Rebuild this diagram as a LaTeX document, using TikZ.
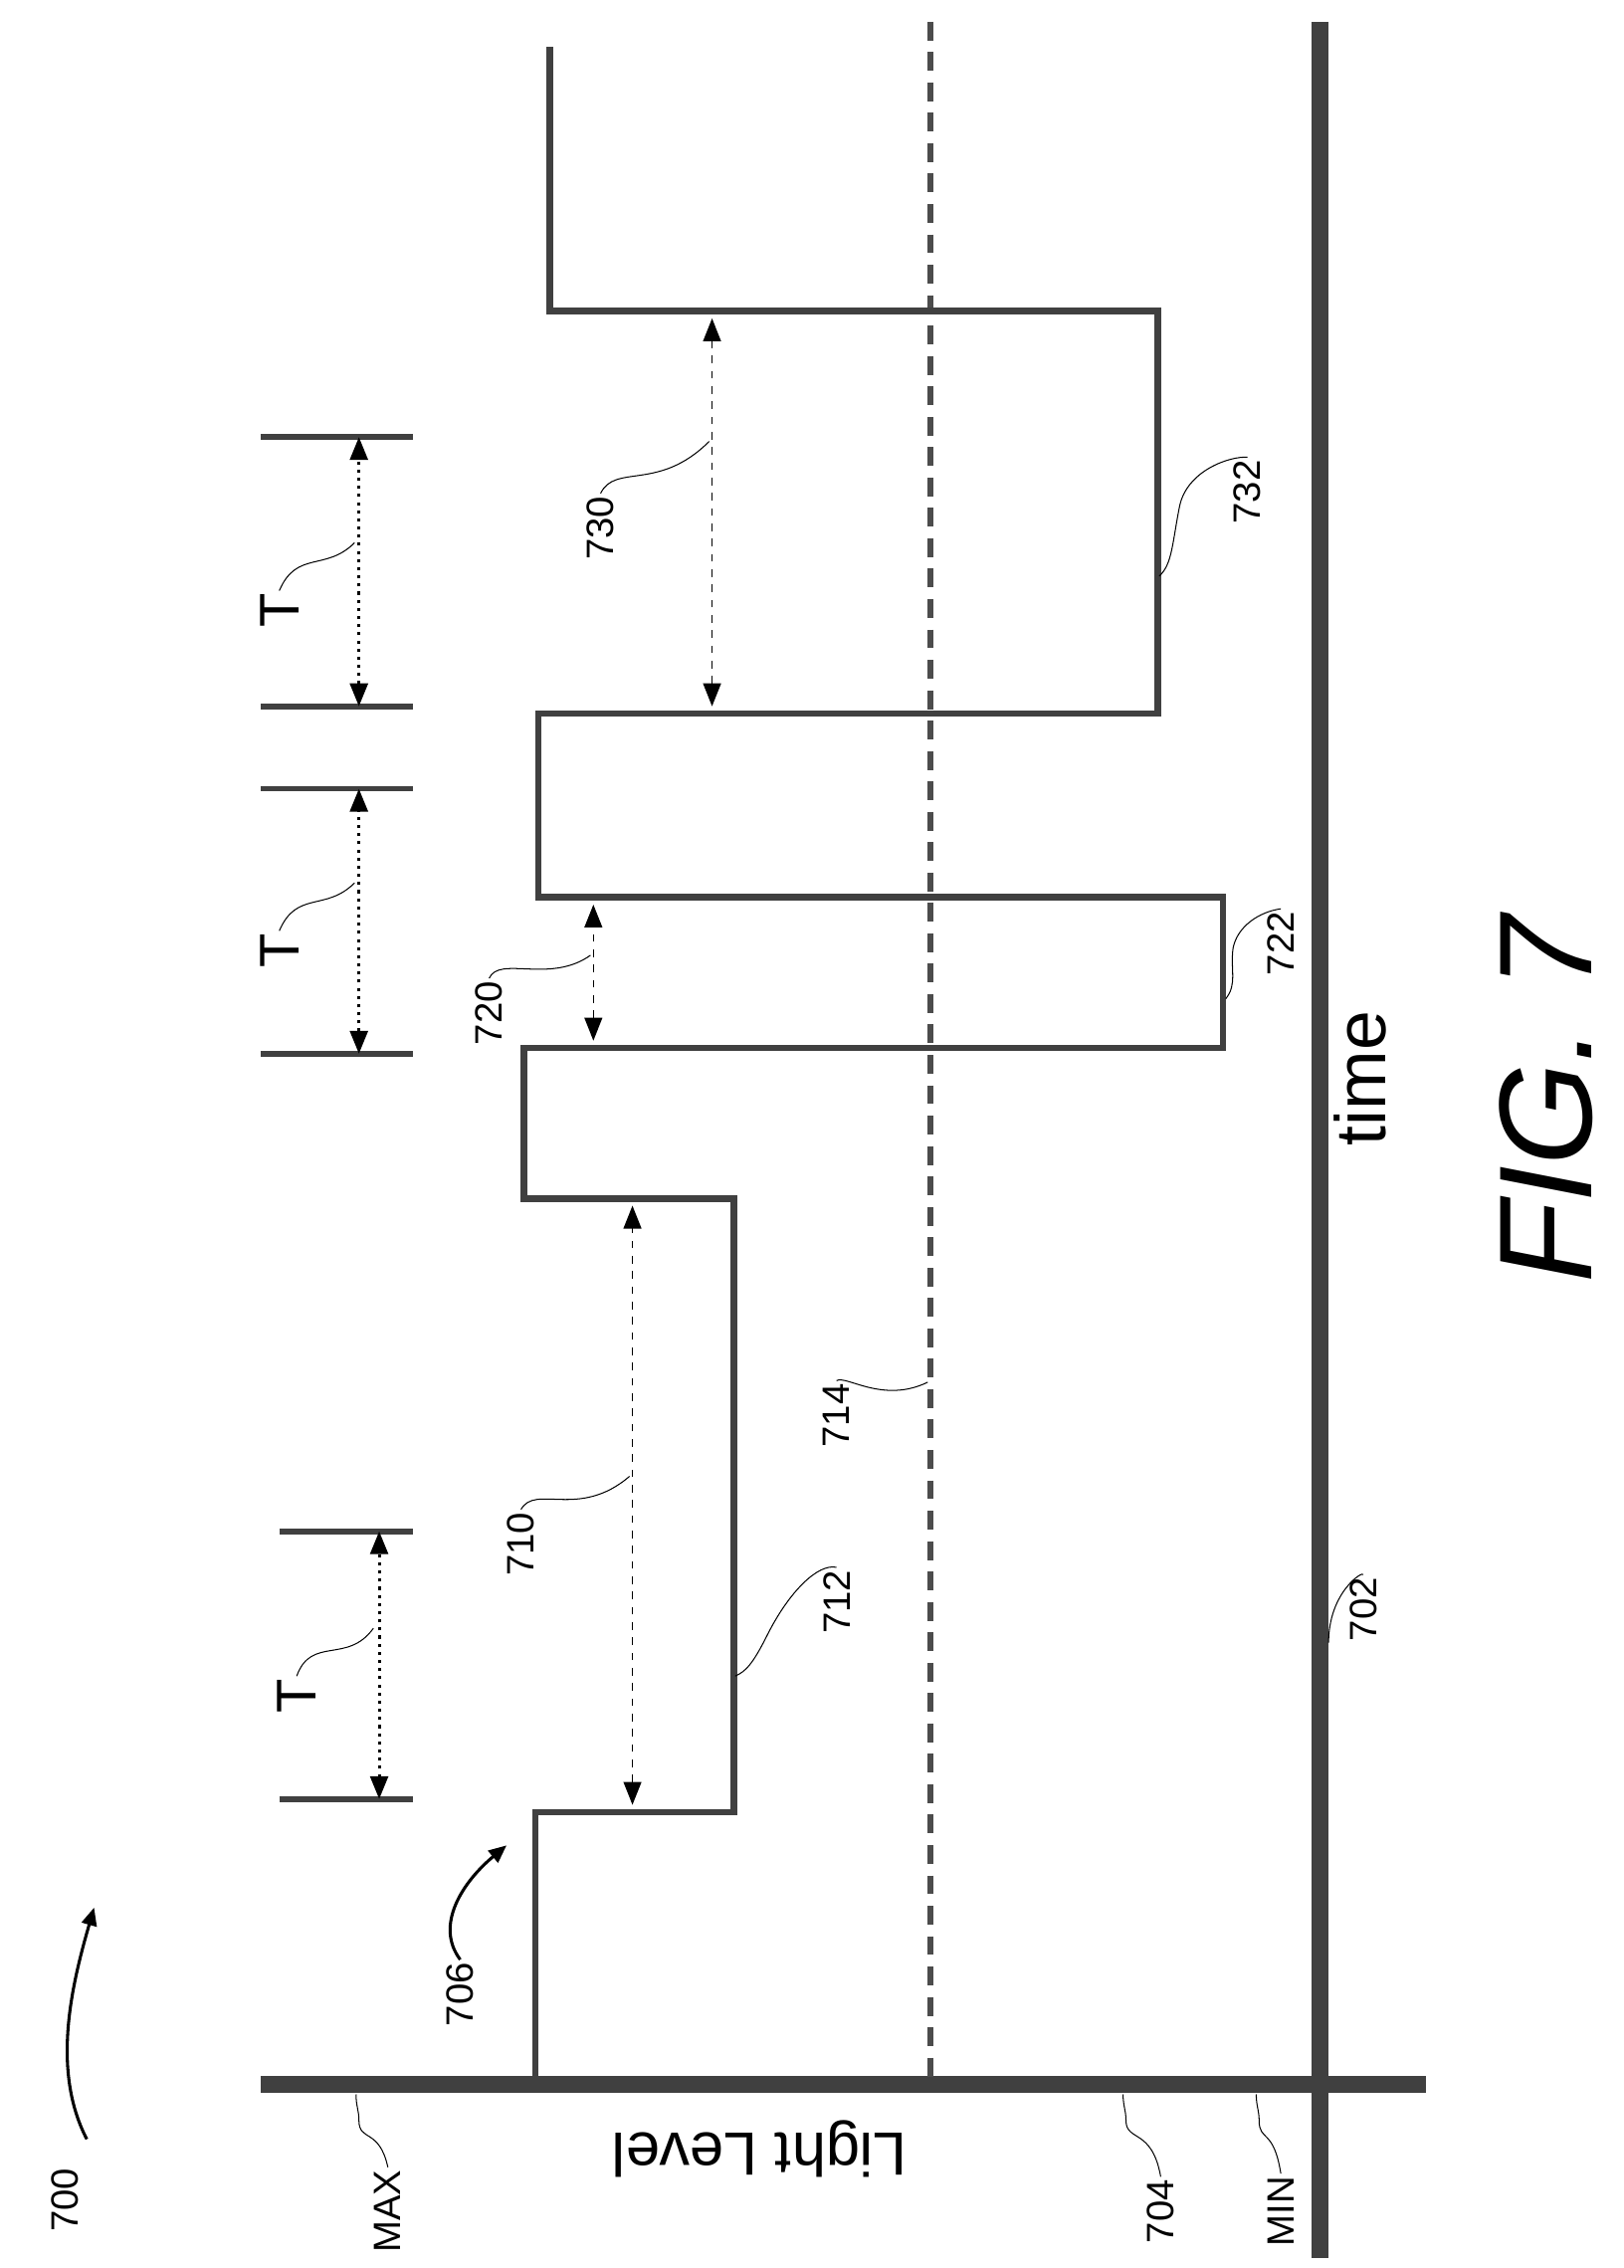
\documentclass[tikz,border=0pt]{standalone}
\usepackage{fontspec}
\setmainfont{Liberation Sans}
\usetikzlibrary{arrows.meta}
\begin{document}
\begin{tikzpicture}[x=0.02cm, y=-0.02cm,
    axis/.style={line width=6.5pt, black!75},
    signal/.style={line width=2.6pt, black!75},
    midline/.style={line width=2.4pt, black!70, dash pattern=on 0.26cm off 0.16cm},
    span/.style={line width=0.6pt, dashed, {Triangle[length=9pt,width=7pt]}-{Triangle[length=9pt,width=7pt]}},
    period/.style={line width=1.2pt, dotted, {Triangle[length=9pt,width=7pt]}-{Triangle[length=9pt,width=7pt]}},
    tick/.style={line width=2.2pt, black!75},
    leader/.style={line width=0.4pt},
    lbl/.style={font=\fontsize{15}{15}\selectfont, rotate=90, inner sep=1pt}
]
\useasboundingbox (0,0) rectangle (1122,1567);

% axes
\coordinate (timeTop) at (912,15);
\coordinate (timeEnd) at (912,1560);
\coordinate (lvlMax) at (180,1440);
\coordinate (lvlEnd) at (985,1440);
\draw[axis] (timeTop) -- (timeEnd);
\draw[axis] (lvlMax) -- (lvlEnd);
\coordinate (midTop) at (643,15);
\coordinate (midEnd) at (643,1437);
\draw[midline] (midTop) -- (midEnd);

% signal
\draw[signal] (370,1437) -- (370,1252) -- (507,1252) -- (507,828) -- (362,828)
    -- (362,724) -- (845,724) -- (845,620) -- (372,620) -- (372,493)
    -- (800,493) -- (800,215) -- (380,215) -- (380,32);

% spans
\coordinate (a710) at (437,1247);
\coordinate (b710) at (437,833);
\draw[span] (a710) -- (b710);
\coordinate (a720) at (410,719);
\coordinate (b720) at (410,625);
\draw[span] (a720) -- (b720);
\coordinate (a730) at (492,488);
\coordinate (b730) at (492,220);
\draw[span] (a730) -- (b730);

% periods
\foreach \xa/\xb/\ya/\yb/\xc in {193/285/1243/1058/262, 180/285/728/545/248, 180/285/488/302/248}{
  \draw[tick] (\xa,\ya) -- (\xb,\ya);
  \draw[tick] (\xa,\yb) -- (\xb,\yb);
  \draw[period] (\xc,\ya) -- (\xc,\yb);
}

% labels
\node[lbl, font=\fontsize{22}{22}\selectfont] (t1) at (205,1172) {T};
\node[lbl, font=\fontsize{22}{22}\selectfont] (t2) at (193,657) {T};
\node[lbl, font=\fontsize{22}{22}\selectfont] (t3) at (193,422) {T};
\draw[leader] (t1.east) .. controls (215,1130) and (240,1150) .. (258,1125);
\draw[leader] (t2.east) .. controls (205,615) and (225,630) .. (245,610);
\draw[leader] (t3.east) .. controls (205,380) and (225,395) .. (245,375);

\node[lbl] (l700) at (45,1520) {700};
\draw[leader, line width=1.2pt, -{Triangle[length=7pt,width=6pt]}] (60,1478) .. controls (35,1430) and (50,1370) .. (65,1318);
\node[lbl] (l706) at (318,1378) {706};
\draw[leader, line width=1.2pt, -{Triangle[length=7pt,width=6pt]}] (l706.east) .. controls (300,1330) and (320,1300) .. (350,1275);
\node[lbl] (l710) at (360,1067) {710};
\draw[leader] (l710.east) .. controls (370,1025) and (400,1050) .. (435,1020);
\node[lbl] (l712) at (578,1107) {712};
\draw[leader] (l712.east) .. controls (565,1080) and (545,1100) .. (530,1130) .. controls (520,1150) and (515,1155) .. (508,1158);
\node[lbl] (l714) at (578,978) {714};
\draw[leader] (l714.east) .. controls (585,950) and (610,970) .. (641,955);
\node[lbl] (l720) at (338,700) {720};
\draw[leader] (l720.east) .. controls (345,660) and (380,680) .. (408,660);
\node[lbl] (l722) at (885,652) {722};
\draw[leader] (l722.east) .. controls (870,630) and (855,640) .. (852,655) .. controls (850,670) and (855,680) .. (847,690);
\node[lbl] (l730) at (415,365) {730};
\draw[leader] (l730.east) .. controls (425,320) and (455,340) .. (490,305);
\node[lbl] (l732) at (862,340) {732};
\draw[leader] (l732.east) .. controls (850,315) and (820,325) .. (815,350) .. controls (810,375) and (810,390) .. (801,398);
\node[lbl] (l702) at (942,1112) {702};
\draw[leader] (l702.east) .. controls (942,1085) and (918,1100) .. (918,1135);
\node[lbl] (lmax) at (268,1528) {MAX};
\draw[leader] (lmax.east) .. controls (262,1470) and (248,1480) .. (248,1465) .. controls (248,1458) and (246,1455) .. (246,1447);
\node[lbl] (l704) at (802,1528) {704};
\draw[leader] (l704.east) .. controls (796,1470) and (778,1480) .. (778,1465) .. controls (778,1458) and (776,1455) .. (776,1447);
\node[lbl] (lmin) at (885,1528) {MIN};
\draw[leader] (lmin.east) .. controls (880,1470) and (870,1480) .. (870,1465) .. controls (870,1458) and (868,1455) .. (868,1447);
\node[font=\fontsize{24}{24}\selectfont, rotate=180] (llevel) at (525,1485) {Light Level};
\node[font=\fontsize{28}{28}\selectfont, rotate=90] (ltime) at (940,745) {time};
\node[font=\fontsize{52}{52}\selectfont\itshape, rotate=90] (lfig) at (1068,760) {FIG. 7};
\end{tikzpicture}
\end{document}
